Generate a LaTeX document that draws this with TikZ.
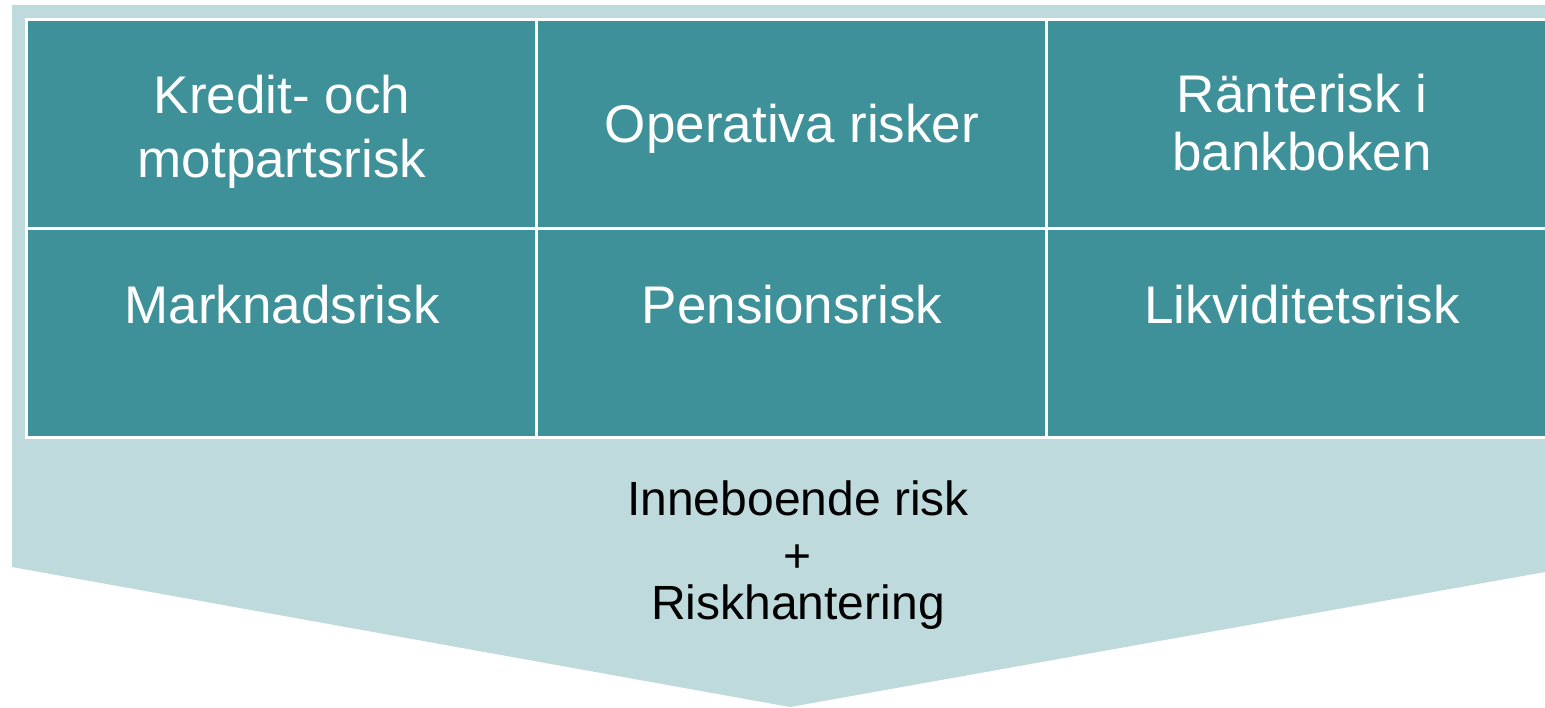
\documentclass[tikz,border=0pt]{standalone}
\usepackage{fontspec}
\setmainfont{Liberation Sans}
\definecolor{teal1}{RGB}{63,145,153}
\definecolor{pale}{RGB}{191,218,221}
\begin{document}
\begin{tikzpicture}[x=1pt,y=-1pt,
  cell/.style={fill=teal1,draw=white,line width=3pt},
  celltext/.style={text=white,font=\fontsize{53}{60}\selectfont,align=center,inner sep=0pt},
  basetext/.style={text=black,font=\fontsize{48}{51}\selectfont,align=center,inner sep=0pt}]
\useasboundingbox (0,0) rectangle (1545,707);
\clip (0,0) rectangle (1545,707);
\fill[pale] (12,5) -- (1545,5) -- (1545,572) -- (790,707) -- (12,567) -- cycle;
\path[cell] (26.5,19.5) rectangle (536.5,228.5);
\path[cell] (536.5,19.5) rectangle (1046.5,228.5);
\path[cell] (1046.5,19.5) rectangle (1560,228.5);
\path[cell] (26.5,228.5) rectangle (536.5,437.5);
\path[cell] (536.5,228.5) rectangle (1046.5,437.5);
\path[cell] (1046.5,228.5) rectangle (1560,437.5);
\node[celltext,font=\fontsize{53}{64}\selectfont] (k) at (282,131.5) {Kredit- och\\motpartsrisk};
\node[celltext,anchor=base] (o) at (792,142) {Operativa risker};
\node[celltext,font=\fontsize{53}{58}\selectfont] (r) at (1302,123) {Ränterisk i\\bankboken};
\node[celltext,anchor=base] (m) at (282,323) {Marknadsrisk};
\node[celltext,anchor=base] (p) at (792,323) {Pensionsrisk};
\node[celltext,anchor=base] (l) at (1302,323) {Likviditetsrisk};
\node[basetext,anchor=north] (i) at (798,480.6) {Inneboende risk\\[6pt]+\\[-4pt]Riskhantering};
\end{tikzpicture}
\end{document}
